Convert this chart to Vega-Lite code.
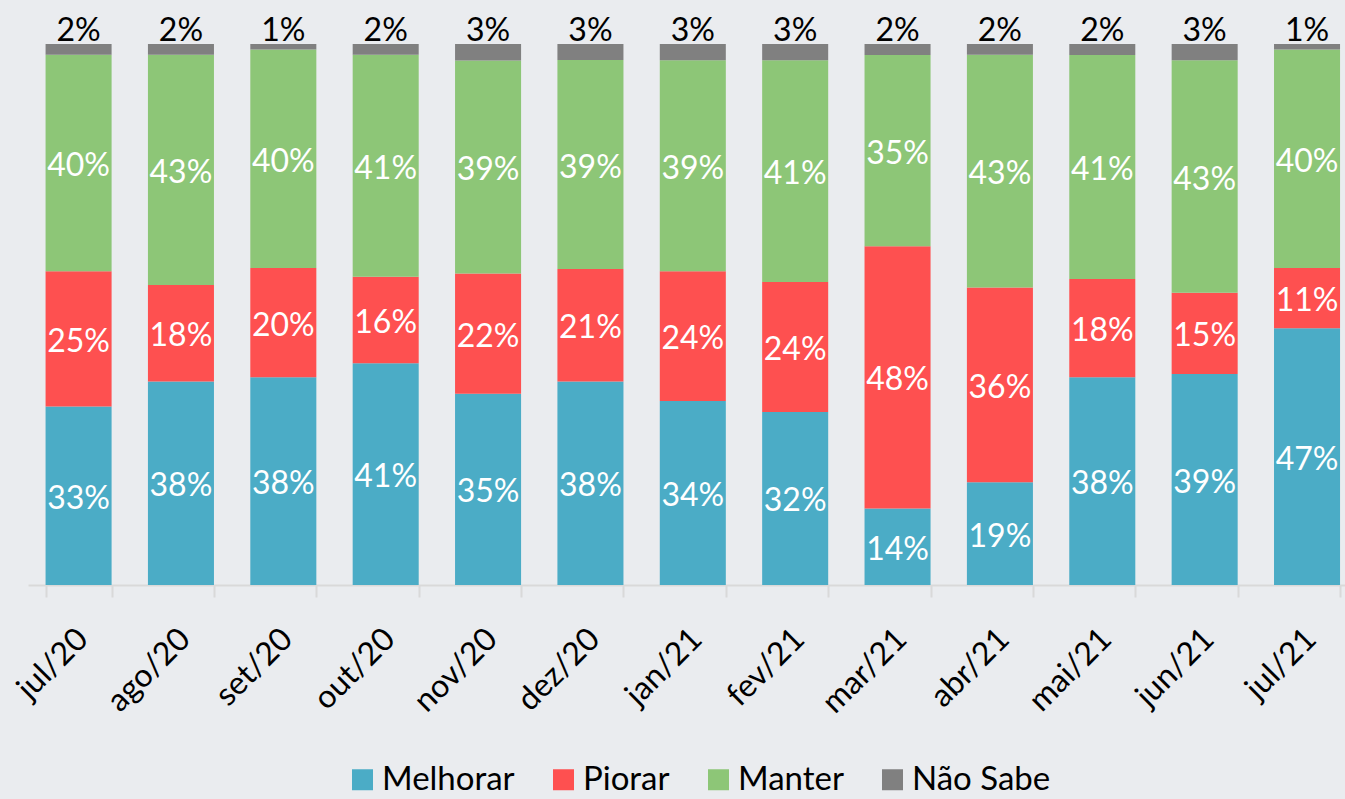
{
  "$schema": "https://vega.github.io/schema/vega-lite/v6.json",
  "autosize": "none",
  "width": 1317,
  "height": 541,
  "padding": {"left": 28, "top": 44, "right": 0, "bottom": 214},
  "background": "#eaecef",
  "config": {"view": {"stroke": null}, "font": "Lato"},
  "data": {"values": [
    {"m":"jul/20","cat":"Melhorar","o":1,"v":0.33},{"m":"jul/20","cat":"Piorar","o":2,"v":0.25},{"m":"jul/20","cat":"Manter","o":3,"v":0.40},{"m":"jul/20","cat":"Não Sabe","o":4,"v":0.02},
    {"m":"ago/20","cat":"Melhorar","o":1,"v":0.38},{"m":"ago/20","cat":"Piorar","o":2,"v":0.18},{"m":"ago/20","cat":"Manter","o":3,"v":0.43},{"m":"ago/20","cat":"Não Sabe","o":4,"v":0.02},
    {"m":"set/20","cat":"Melhorar","o":1,"v":0.38},{"m":"set/20","cat":"Piorar","o":2,"v":0.20},{"m":"set/20","cat":"Manter","o":3,"v":0.40},{"m":"set/20","cat":"Não Sabe","o":4,"v":0.01},
    {"m":"out/20","cat":"Melhorar","o":1,"v":0.41},{"m":"out/20","cat":"Piorar","o":2,"v":0.16},{"m":"out/20","cat":"Manter","o":3,"v":0.41},{"m":"out/20","cat":"Não Sabe","o":4,"v":0.02},
    {"m":"nov/20","cat":"Melhorar","o":1,"v":0.35},{"m":"nov/20","cat":"Piorar","o":2,"v":0.22},{"m":"nov/20","cat":"Manter","o":3,"v":0.39},{"m":"nov/20","cat":"Não Sabe","o":4,"v":0.03},
    {"m":"dez/20","cat":"Melhorar","o":1,"v":0.38},{"m":"dez/20","cat":"Piorar","o":2,"v":0.21},{"m":"dez/20","cat":"Manter","o":3,"v":0.39},{"m":"dez/20","cat":"Não Sabe","o":4,"v":0.03},
    {"m":"jan/21","cat":"Melhorar","o":1,"v":0.34},{"m":"jan/21","cat":"Piorar","o":2,"v":0.24},{"m":"jan/21","cat":"Manter","o":3,"v":0.39},{"m":"jan/21","cat":"Não Sabe","o":4,"v":0.03},
    {"m":"fev/21","cat":"Melhorar","o":1,"v":0.32},{"m":"fev/21","cat":"Piorar","o":2,"v":0.24},{"m":"fev/21","cat":"Manter","o":3,"v":0.41},{"m":"fev/21","cat":"Não Sabe","o":4,"v":0.03},
    {"m":"mar/21","cat":"Melhorar","o":1,"v":0.14},{"m":"mar/21","cat":"Piorar","o":2,"v":0.48},{"m":"mar/21","cat":"Manter","o":3,"v":0.35},{"m":"mar/21","cat":"Não Sabe","o":4,"v":0.02},
    {"m":"abr/21","cat":"Melhorar","o":1,"v":0.19},{"m":"abr/21","cat":"Piorar","o":2,"v":0.36},{"m":"abr/21","cat":"Manter","o":3,"v":0.43},{"m":"abr/21","cat":"Não Sabe","o":4,"v":0.02},
    {"m":"mai/21","cat":"Melhorar","o":1,"v":0.38},{"m":"mai/21","cat":"Piorar","o":2,"v":0.18},{"m":"mai/21","cat":"Manter","o":3,"v":0.41},{"m":"mai/21","cat":"Não Sabe","o":4,"v":0.02},
    {"m":"jun/21","cat":"Melhorar","o":1,"v":0.39},{"m":"jun/21","cat":"Piorar","o":2,"v":0.15},{"m":"jun/21","cat":"Manter","o":3,"v":0.43},{"m":"jun/21","cat":"Não Sabe","o":4,"v":0.03},
    {"m":"jul/21","cat":"Melhorar","o":1,"v":0.47},{"m":"jul/21","cat":"Piorar","o":2,"v":0.11},{"m":"jul/21","cat":"Manter","o":3,"v":0.40},{"m":"jul/21","cat":"Não Sabe","o":4,"v":0.01}
  ]},
  "encoding": {
    "x": {
      "field": "m", "type": "nominal", "sort": null, "title": null,
      "scale": {"paddingInner": 0.355, "paddingOuter": 0.11, "align": 0.78},
      "axis": {
        "labelAngle": -45, "labelFont": "Lato", "labelFontSize": 32, "labelColor": "#000000",
        "labelPadding": 26, "labelOffset": -7, "tickBand": "extent", "tickSize": 12, "tickColor": "#d9d9d9", "tickWidth": 2,
        "domainColor": "#d9d9d9", "domainWidth": 2, "grid": false
      }
    },
    "y": {"field": "v", "type": "quantitative", "stack": "normalize", "axis": null, "scale": {"domain": [0, 1], "nice": false}},
    "order": {"field": "o", "type": "quantitative"}
  },
  "layer": [
    {
      "mark": {"type": "bar"},
      "encoding": {
        "color": {
          "field": "cat", "type": "nominal",
          "scale": {"domain": ["Melhorar", "Piorar", "Manter", "Não Sabe"], "range": ["#4bacc6", "#fe5050", "#8dc677", "#808080"]},
          "legend": {
            "title": null, "orient": "none", "direction": "horizontal", "legendX": 318, "legendY": 719,
            "symbolType": "square", "symbolSize": 441, "symbolStrokeWidth": 0, "symbolOpacity": 1,
            "labelFont": "Lato", "labelFontSize": 33, "labelColor": "#000000", "labelOffset": 3, "columnPadding": 32
          }
        }
      }
    },
    {
      "mark": {"type": "text", "font": "Lato", "fontSize": 32, "color": "#ffffff", "baseline": "middle", "dy": 3},
      "encoding": {
        "y": {"field": "v", "type": "quantitative", "stack": "normalize", "bandPosition": 0.5},
        "text": {"field": "v", "type": "quantitative", "format": ".0%", "condition": {"test": "datum.cat === 'Não Sabe'", "value": ""}}
      }
    },
    {
      "mark": {"type": "text", "font": "Lato", "fontSize": 32, "color": "#000000", "baseline": "alphabetic", "dy": -3},
      "encoding": {
        "text": {"field": "v", "type": "quantitative", "format": ".0%", "condition": {"test": "datum.cat !== 'Não Sabe'", "value": ""}}
      }
    }
  ]
}
